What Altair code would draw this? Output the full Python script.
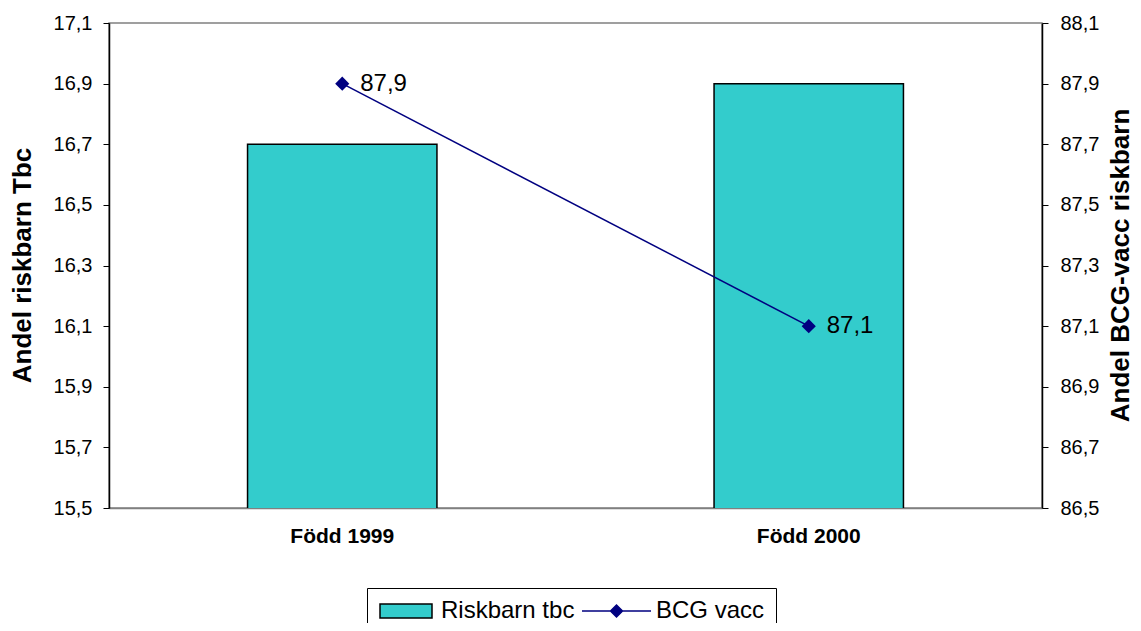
import altair as alt
import pandas as pd

categories = ["Född 1999", "Född 2000"]
riskbarn_tbc = [16.7, 16.9]
bcg_vacc = [87.9, 87.1]
left_ticks = [15.5, 15.7, 15.9, 16.1, 16.3, 16.5, 16.7, 16.9, 17.1]
right_ticks = [86.5, 86.7, 86.9, 87.1, 87.3, 87.5, 87.7, 87.9, 88.1]
series_names = ["Riskbarn tbc", "BCG vacc"]
fill_colors = ["#33CCCC", "#000080"]
stroke_colors = ["#000000", "#000080"]

FONT = "Liberation Sans"

# legend symbols: a framed swatch for the bars, a line with a diamond for the line
legend_shapes = [
    "M-1,-0.7H4.2V0.7H-1Z",
    "M-2.3,0H4.6M0.55,0L1.15,-0.6L1.75,0L1.15,0.6Z",
]

df = pd.DataFrame({"kategori": categories, "riskbarn": riskbarn_tbc, "bcg": bcg_vacc})
legend_df = pd.DataFrame({"serie": series_names})

comma = "replace(format(datum.value, '.1f'), '.', ',')"

x_enc = alt.X(
    "kategori:N",
    sort=categories,
    scale=alt.Scale(paddingInner=0.594, paddingOuter=0.297),
    axis=alt.Axis(
        title=None, labelAngle=0, labelFont=FONT, labelFontSize=21,
        labelFontWeight="bold", labelColor="black", ticks=False, tickSize=0,
        labelPadding=17, domainColor="#808080", domainWidth=1.5,
    ),
)

left_axis = alt.Axis(
    title="Andel riskbarn Tbc", values=left_ticks, labelExpr=comma,
    labelFont=FONT, labelFontSize=20, labelColor="black", labelPadding=11,
    tickSize=6, tickColor="black", domainColor="black", domainWidth=1.5,
    grid=False, titleFont=FONT, titleFontSize=26, titleFontWeight="bold",
    titleColor="black", titleAngle=270, titleX=-87, titleY=242,
    titleAlign="center", titleBaseline="middle",
)

right_axis = alt.Axis(
    title="Andel BCG-vacc riskbarn", orient="right", values=right_ticks,
    labelExpr=comma, labelFont=FONT, labelFontSize=20, labelColor="black",
    labelPadding=12, tickSize=6, tickColor="black", domainColor="black",
    domainWidth=1.5, grid=False, titleFont=FONT, titleFontSize=26,
    titleFontWeight="bold", titleColor="black", titleAngle=270, titleX=78,
    titleY=242, titleAlign="center", titleBaseline="middle",
)

legend = alt.Legend(
    title=None, orient="none", legendX=258, legendY=565, direction="horizontal",
    labelFont=FONT, labelFontSize=24, labelColor="black", labelOffset=39,
    labelLimit=600, columnPadding=4, padding=11, strokeColor="black",
    fillColor="white", symbolSize=400, symbolStrokeWidth=1.5, symbolOpacity=1,
)

fill_scale = alt.Scale(domain=series_names, range=fill_colors)
stroke_scale = alt.Scale(domain=series_names, range=stroke_colors)
shape_scale = alt.Scale(domain=series_names, range=legend_shapes)

left_scale = alt.Scale(domain=[15.5, 17.1], zero=False, nice=False)
right_scale = alt.Scale(domain=[86.5, 88.1], zero=False, nice=False)

base = alt.Chart(df)

bars = base.transform_calculate(serie="'Riskbarn tbc'").mark_bar(
    strokeWidth=1.5, opacity=1, clip=True
).encode(
    x=x_enc,
    y=alt.Y("riskbarn:Q", scale=left_scale, axis=left_axis),
    fill=alt.Fill("serie:N", scale=fill_scale, legend=legend),
    stroke=alt.Stroke("serie:N", scale=stroke_scale, legend=legend),
)

line = base.transform_calculate(serie="'BCG vacc'").mark_line(strokeWidth=1.5).encode(
    x=x_enc,
    y=alt.Y("bcg:Q", scale=right_scale, axis=right_axis),
    stroke=alt.Stroke("serie:N", scale=stroke_scale, legend=legend),
)

points = base.transform_calculate(serie="'BCG vacc'").mark_point(
    shape="diamond", filled=True, size=200, opacity=1
).encode(
    x=x_enc,
    y=alt.Y("bcg:Q", scale=right_scale, axis=right_axis),
    fill=alt.Fill("serie:N", scale=fill_scale, legend=legend),
)

labels = base.transform_calculate(
    lab="replace(format(datum.bcg, '.1f'), '.', ',')"
).mark_text(
    align="left", baseline="middle", dx=18, fontSize=24, font=FONT, color="black"
).encode(
    x=x_enc,
    y=alt.Y("bcg:Q", scale=right_scale, axis=right_axis),
    text="lab:N",
)

# carrier of the combined legend (draws nothing in the plot itself)
legend_layer = alt.Chart(legend_df).mark_point(filled=True, opacity=0).encode(
    fill=alt.Fill("serie:N", scale=fill_scale, legend=legend),
    stroke=alt.Stroke("serie:N", scale=stroke_scale, legend=legend),
    shape=alt.Shape("serie:N", scale=shape_scale, legend=legend),
)

right = alt.layer(line, points, labels)

chart = alt.layer(bars, right, legend_layer).resolve_scale(y="independent").properties(
    width=933,
    height=485,
    padding={"left": 101, "top": 15, "right": 91, "bottom": 115},
    autosize=alt.AutoSizeParams(type="none"),
    background="white",
).configure_view(stroke="#808080", strokeWidth=1.5)

chart.save("out.html", embed_options={"renderer": "svg", "actions": False})
